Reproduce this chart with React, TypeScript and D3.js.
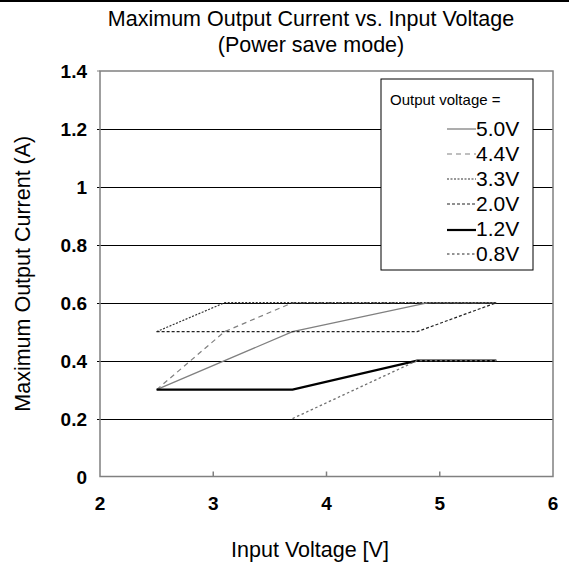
import React from "react";
import * as d3 from "d3";

const xTicks = [2, 3, 4, 5, 6];
const yTicks = [0, 0.2, 0.4, 0.6, 0.8, 1, 1.2, 1.4];
const yTickLabels = ["0", "0.2", "0.4", "0.6", "0.8", "1", "1.2", "1.4"];

const seriesNames = ["5.0V", "4.4V", "3.3V", "2.0V", "1.2V", "0.8V"];
const s50x = [2.5, 3.7, 4.9, 5.5];
const s50y = [0.3, 0.5, 0.6, 0.6];
const s44x = [2.5, 3.1, 3.7, 5.5];
const s44y = [0.3, 0.5, 0.6, 0.6];
const s33x = [2.5, 3.1, 5.5];
const s33y = [0.5, 0.6, 0.6];
const s20x = [2.5, 4.8, 5.5];
const s20y = [0.5, 0.5, 0.6];
const s12x = [2.5, 3.7, 4.8, 5.5];
const s12y = [0.3, 0.3, 0.4, 0.4];
const s08x = [3.7, 4.8, 5.5];
const s08y = [0.2, 0.4, 0.4];

const seriesX = [s50x, s44x, s33x, s20x, s12x, s08x];
const seriesY = [s50y, s44y, s33y, s20y, s12y, s08y];

const styles = [
  { stroke: "#808080", width: 1.3, dash: "" },
  { stroke: "#808080", width: 1.2, dash: "5,4" },
  { stroke: "#333", width: 1.2, dash: "2,1.5" },
  { stroke: "#222", width: 1.2, dash: "3,2" },
  { stroke: "#000", width: 2.2, dash: "" },
  { stroke: "#707070", width: 1.3, dash: "2.5,2.5" },
];

export default function App() {
  const W = 569, H = 566;
  const left = 100, right = 553, top = 71, bottom = 476.5;
  const x = d3.scaleLinear().domain([2, 6]).range([left, right]);
  const y = d3.scaleLinear().domain([0, 1.4]).range([bottom, top]);
  const line = d3.line<[number, number]>().x((d) => x(d[0])).y((d) => y(d[1]));
  const font = "'Liberation Sans', Arial, sans-serif";

  const legX = 381, legY = 79, legW = 152, legH = 191;

  return (
    <svg width={W} height={H} style={{ position: "absolute", left: 0, top: 0, background: "#fff" }} fontFamily={font}>
      <line x1={0} x2={W} y1={1} y2={1} stroke="#000" strokeWidth={2} />
      <text x={311} y={26} textAnchor="middle" fontSize={21.5}>Maximum Output Current vs. Input Voltage</text>
      <text x={311} y={52} textAnchor="middle" fontSize={21.5}>(Power save mode)</text>

      {/* gridlines */}
      {yTicks.filter((v) => v > 0 && v < 1.4).map((v) => (
        <line key={v} x1={left - 3} x2={right} y1={Math.round(y(v)) + 0.5} y2={Math.round(y(v)) + 0.5} stroke="#000" strokeWidth={1} />
      ))}
      {/* frame */}
      <rect x={left} y={top} width={right - left} height={bottom - top} fill="none" stroke="#808080" strokeWidth={1.5} />
      <line x1={left - 3} x2={left} y1={top} y2={top} stroke="#808080" />
      {xTicks.slice(1, -1).map((v) => (
        <line key={v} x1={x(v)} x2={x(v)} y1={bottom} y2={bottom - 5} stroke="#808080" strokeWidth={1.5} />
      ))}

      {/* y labels */}
      {yTicks.map((v, i) => (
        <text key={v} x={87} y={y(v) + 7} textAnchor="end" fontSize={19} fontWeight="bold">{yTickLabels[i]}</text>
      ))}
      {xTicks.map((v) => (
        <text key={v} x={x(v)} y={510} textAnchor="middle" fontSize={19} fontWeight="bold">{v}</text>
      ))}

      <text x={310} y={557} textAnchor="middle" fontSize={21.5}>Input Voltage [V]</text>
      <text transform={`translate(30,${(top + bottom) / 2}) rotate(-90)`} textAnchor="middle" fontSize={21.5}>Maximum Output Current (A)</text>

      {/* series */}
      {seriesX.map((xs, i) => (
        <path key={i} d={line(xs.map((xv, j) => [xv, seriesY[i][j]]) as [number, number][]) || ""} fill="none"
          stroke={styles[i].stroke} strokeWidth={styles[i].width} strokeDasharray={styles[i].dash} />
      ))}

      {/* legend */}
      <rect x={legX} y={legY} width={legW} height={legH} fill="#fff" stroke="#000" strokeWidth={1} />
      <text x={390} y={105} fontSize={15}>Output voltage =</text>
      {seriesNames.map((n, i) => {
        const cy = 128 + i * 25;
        return (
          <g key={n}>
            <line x1={447} x2={476} y1={cy + (i === 4 ? 2 : 1)} y2={cy + (i === 4 ? 2 : 1)} stroke={styles[i].stroke} strokeWidth={styles[i].width}
              strokeDasharray={styles[i].dash} />
            <text x={476} y={cy + 8} fontSize={21}>{n}</text>
          </g>
        );
      })}
    </svg>
  );
}
